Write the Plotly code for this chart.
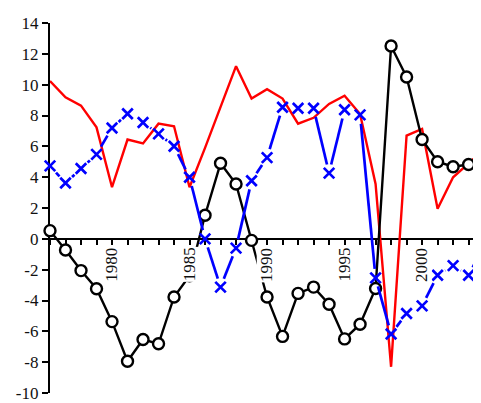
import math
import plotly.graph_objects as go

# ---- data ----
years = list(range(1976, 2005))
red_values = [10.24, 9.18, 8.64, 7.23, 3.35, 6.44, 6.19, 7.47, 7.3, 3.35,
              5.9, 8.6, 11.2, 9.1, 9.71, 9.1, 7.47, 7.85, 8.75, 9.28,
              8.1, 3.56, -8.3, 6.7, 7.13, 1.95, 3.99, 4.9, 5.8]
blue_values = [4.73, 3.62, 4.56, 5.48, 7.19, 8.11, 7.55, 6.81, 6.01, 3.99,
               0.0, -3.13, -0.6, 3.77, 5.27, 8.54, 8.47, 8.47, 4.26, 8.37,
               8.04, -2.53, -6.17, -4.84, -4.35, -2.36, -1.74, -2.36, -0.4]
black_values = [0.53, -0.72, -2.06, -3.24, -5.37, -7.94, -6.53, -6.81, -3.77, -2.4,
                1.53, 4.9, 3.56, -0.1, -3.77, -6.33, -3.54, -3.13, -4.24, -6.49,
                -5.54, -3.22, 12.51, 10.5, 6.44, 5.0, 4.68, 4.82, 5.25]
x_tick_labels = ["1980", "1985", "1990", "1995", "2000"]
y_ticks = list(range(-10, 15, 2))

# ---- layout geometry (page has an 8px body margin) ----
W, H = 473, 395
ML, MR, MT, MB = 42, 0, 15, 6
XR = [1976, 2003.8]
YR = [-10, 14]
FONT = "Liberation Serif"

sx = (W - ML - MR) / (XR[1] - XR[0])
sy = (H - MT - MB) / (YR[1] - YR[0])

# line with gaps around points (like R type="b")
GAP = 9.0
bx, by = [], []
for i in range(len(years) - 1):
    x0, y0, x1, y1 = years[i], blue_values[i], years[i + 1], blue_values[i + 1]
    L = math.hypot((x1 - x0) * sx, (y1 - y0) * sy)
    if L > 2 * GAP:
        t0, t1 = GAP / L, 1 - GAP / L
        bx += [x0 + t0 * (x1 - x0), x0 + t1 * (x1 - x0), None]
        by += [y0 + t0 * (y1 - y0), y0 + t1 * (y1 - y0), None]

fig = go.Figure()
fig.add_trace(go.Scatter(x=years, y=red_values, mode="lines",
                         line=dict(color="#ff0000", width=2.4), showlegend=False))
fig.add_trace(go.Scatter(x=years, y=black_values, mode="lines+markers",
                         line=dict(color="black", width=2.4),
                         marker=dict(symbol="circle", size=11, color="white",
                                     line=dict(color="black", width=2.4)),
                         cliponaxis=False, showlegend=False))
fig.add_trace(go.Scatter(x=bx, y=by, mode="lines",
                         line=dict(color="#0000ff", width=2.7),
                         connectgaps=False, showlegend=False))
fig.add_trace(go.Scatter(x=years, y=blue_values, mode="markers",
                         marker=dict(symbol="x-thin", size=10.5, color="#0000ff",
                                     line=dict(color="#0000ff", width=2.7)),
                         cliponaxis=False, showlegend=False))

for lab in x_tick_labels:
    fig.add_annotation(x=int(lab), y=0, xref="x", yref="y", text=lab,
                       textangle=-90, showarrow=False, yanchor="top",
                       xanchor="center", yshift=-8, bgcolor="white",
                       borderpad=0, font=dict(family=FONT, size=17, color="#111"))

fig.update_layout(
    width=W, height=H,
    margin=dict(l=ML, r=MR, t=MT, b=MB, pad=0),
    paper_bgcolor="white", plot_bgcolor="white",
    xaxis=dict(range=XR, anchor="free", position=(0 - YR[0]) / (YR[1] - YR[0]),
               showline=True, linecolor="black", linewidth=2.4,
               ticks="outside", ticklen=5, tickwidth=2, tickcolor="black",
               tickvals=years, showticklabels=False,
               showgrid=False, zeroline=False, layer="below traces"),
    yaxis=dict(range=YR, showline=True, linecolor="black", linewidth=2.4,
               ticks="outside", ticklen=6, tickwidth=2, tickcolor="black",
               tickvals=y_ticks, ticktext=[str(v) for v in y_ticks],
               tickfont=dict(family=FONT, size=17, color="#111"),
               ticklabeloverflow="allow",
               showgrid=False, zeroline=False, layer="below traces"),
)

fig.write_html("out.html")
